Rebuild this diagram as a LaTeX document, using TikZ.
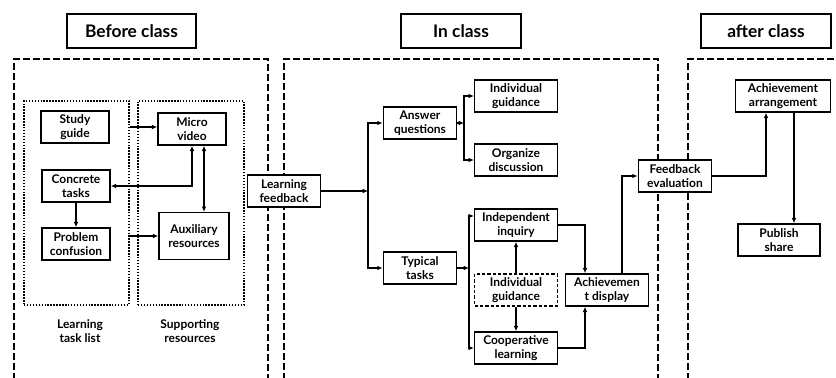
\documentclass[tikz,border=0pt]{standalone}
\usepackage{fontspec}
\setmainfont{Lato}
\usetikzlibrary{arrows.meta,calc}
\begin{document}
\begin{tikzpicture}[x=0.75pt,y=-0.75pt]

    \tikzset{
      box/.style={
        draw,
        fill=white,
        line width=1.1pt,
        align=center,
        inner sep=1pt,
        minimum height=24pt,
        font=\fontsize{9}{10.5}\selectfont\bfseries,
      },
      title/.style={
        draw,
        line width=1.1pt,
        minimum height=25.5pt,
        font=\fontsize{13}{15}\selectfont\bfseries,
      },
      frame/.style={
        line width=1.5pt,
        dash pattern=on 5pt off 2.5pt,
      },
      dotbox/.style={
        draw,
        line width=1.5pt,
        dash pattern=on 1.1pt off 1.1pt,
        inner sep=0pt,
      },
      caption/.style={
        align=center,
        font=\fontsize{9}{10.5}\selectfont\bfseries,
      },
      arr/.style={
        line width=1.2pt,
        -{Latex[length=4pt,width=3.5pt]},
      },
      arrs/.style={
        line width=1.2pt,
        {Latex[length=4pt,width=3.5pt]}-{Latex[length=4pt,width=3.5pt]},
      },
    }
    \useasboundingbox (0,0) rectangle (836,378);

	% stage frames
	\draw[frame] (14,380) -- (14,59) -- (268,59) -- (268,380);
	\draw[frame] (284,380) -- (284,59) -- (658,59) -- (658,380);
	\draw[frame] (688,380) -- (688,59) -- (840,59);

	\node[title,minimum width=97pt] (before) at (131.5,31) {Before class};
	\node[title,minimum width=90pt] (inclass) at (461,31) {In class};
	\node[title,minimum width=97.5pt] (after) at (766,31) {after class};

	% before class
	\node[dotbox,minimum width=78.75pt,minimum height=153pt] (tasklist) at (76.5,203) {};
	\node[dotbox,minimum width=79.5pt,minimum height=153pt] (support) at (191,203) {};
	\node[caption] (tasklab) at (80,331) {Learning\\task list};
	\node[caption] (supportlab) at (190,331) {Supporting\\resources};

	\node[box,minimum width=51pt] (guide) at (75,127) {Study\\guide};
	\node[box,minimum width=51pt] (micro) at (192,129) {Micro\\video};
	\node[box,minimum width=51pt] (concrete) at (76,186) {Concrete\\tasks};
	\node[box,minimum width=51pt] (problem) at (76,244) {Problem\\confusion};
	\node[box,minimum width=52.5pt,minimum height=35pt] (aux) at (194,236) {Auxiliary\\resources};

	\coordinate (microlink) at ($(micro.south)+(12,0)$);

	\draw[arr] (tasklist.east |- guide.east) -- (micro.west |- guide.east);
	\draw[arr] (tasklist.east |- aux.west) -- (aux.west);
	\draw[arr] (concrete) -- (problem);
	\draw[arrs] (concrete.east) -| (micro.south);
	\draw[arrs] (microlink) -- (microlink |- aux.north);

	% in class
	\node[box,minimum width=55pt] (feedback) at (284,191) {Learning\\feedback};
	\node[box,minimum width=55pt] (answer) at (420,123) {Answer\\questions};
	\node[box,minimum width=55pt] (typical) at (420,268) {Typical\\tasks};
	\node[box,minimum width=62pt] (guidance) at (516,96) {Individual\\guidance};
	\node[box,minimum width=62pt] (discuss) at (516,160) {Organize\\discussion};
	\node[box,minimum width=62pt] (inquiry) at (516,225) {Independent\\inquiry};
	\node[box,minimum width=62pt,dash pattern=on 2.5pt off 1.5pt] (guidance2) at (516,290) {Individual\\guidance};
	\node[box,minimum width=62pt] (coop) at (516,348) {Cooperative\\learning};
	\node[box,minimum width=62pt] (display) at (607,290) {Achievemen\\t display};
	\node[box,minimum width=55pt] (evaluate) at (675,176) {Feedback\\evaluation};

	\coordinate (split1) at (368,191);
	\coordinate (split2) at (464,123);
	\coordinate (split3) at (469,268);
	\coordinate (inquiryin) at ($(inquiry.west)+(0,-9)$);
	\coordinate (displayin) at ($(display.north)+(-22,0)$);
	\coordinate (displayin2) at ($(display.south)+(-22,0)$);
	\coordinate (displayout) at ($(display.north)+(15,0)$);

	\draw[arr] (feedback.east) -- (split1);
	\draw[arr] (split1) |- (answer.west);
	\draw[arr] (split1) |- (typical.west);
	\draw[arr] (answer.east) -- (split2);
	\draw[arr] (split2) |- (guidance.west);
	\draw[arr] (split2) |- (discuss.west);
	\draw[arr] (typical.east) -- (split3);
	\draw[arr] (split3) |- (inquiryin);
	\draw[arr] (split3) |- (coop.west);
	\draw[arr] (guidance2) -- (inquiry);
	\draw[arr] (guidance2) -- (coop);
	\draw[arr] (inquiry.east) -| (displayin);
	\draw[arr] (coop.east) -| (displayin2);
	\draw[arr] (displayout) |- (evaluate.west);

	% after class
	\node[box,minimum width=71pt] (arrange) at (783,96) {Achievement\\arrangement};
	\node[box,minimum width=61.5pt] (publish) at (779,240) {Publish\\share};

	\coordinate (arrangein) at ($(arrange.south)+(-17,0)$);
	\coordinate (arrangeout) at ($(arrange.south)+(11,0)$);

	\draw[arr] (evaluate.east) -| (arrangein);
	\draw[arr] (arrangeout) -- (arrangeout |- publish.north);

\end{tikzpicture}
\end{document}
